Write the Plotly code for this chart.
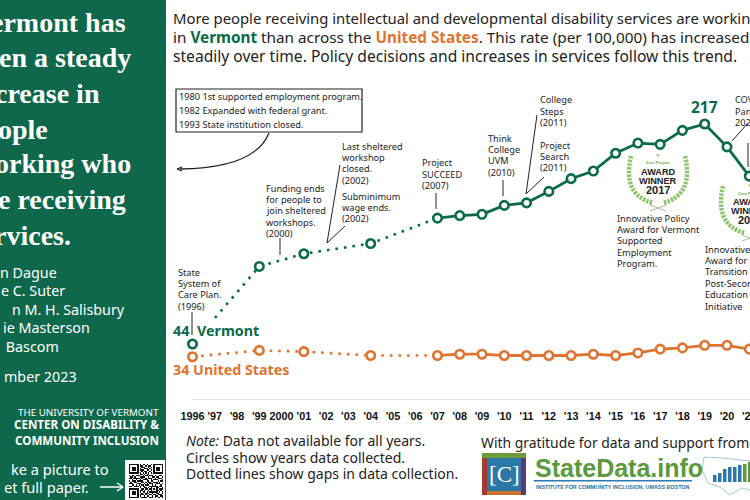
import plotly.graph_objects as go

# ---------- data ----------
axis_years = list(range(1996, 2022))
axis_labels = ["1996", "'97", "'98", "'99", "2000", "'01", "'02", "'03", "'04", "'05", "'06", "'07", "'08",
               "'09", "'10", "'11", "'12", "'13", "'14", "'15", "'16", "'17", "'18", "'19", "'20", "'21"]
years = [1996, 1999, 2001, 2004, 2007, 2008, 2009, 2010, 2011, 2012, 2013, 2014, 2015, 2016, 2017, 2018, 2019, 2020, 2021]
vermont = [44, 105, 115, 123, 143, 145, 146, 153, 155, 164, 174, 180, 194, 202, 201, 212, 217, 199, 176]
united_states = [34, 39, 38, 35, 35, 36, 36, 35, 35, 35, 35, 36, 35, 37, 40, 41, 43, 43, 40]
GAP_END = 5   # first five collected years are joined by dotted lines

heading = [("ermont has", 127, 22), ("en a steady", 132, 58), ("crease in", 101, 93), ("ople", 49, 129),
           ("orking who", 132, 164), ("e receiving", 127, 199), ("rvices.", 72, 235)]
authors = [("n Dague", 58, 272), ("e C. Suter", 66, 290), ("n M. H. Salisbury", 126, 309),
           ("ie Masterson", 91, 327), (" Bascom", 60, 346), ("mber 2023", 78, 376)]
intro = [("More people receiving intellectual and developmental disability services are working", 18, 14.85),
         ("in <b><span style='color:#0B6A47'>Vermont</span></b> than across the <b><span style='color:#DE7430'>United States</span></b>. This rate (per 100,000) has increased", 37, 15.3),
         ("steadily over time. Policy decisions and increases in services follow this trend.", 56, 15.6)]
notes = [(177, 272, ["State", "System of", "Care Plan.", "(1996)"]),
         (265, 188, ["Funding ends", "for people to", "join sheltered", "workshops.", "(2000)"]),
         (341, 146, ["Last sheltered", "workshop", "closed.", "(2002)"]),
         (341, 196, ["Subminimum", "wage ends.", "(2002)"]),
         (421, 163, ["Project", "SUCCEED", "(2007)"]),
         (487, 138, ["Think", "College", "UVM", "(2010)"]),
         (539, 100, ["College", "Steps", "(2011)"]),
         (539, 145, ["Project", "Search", "(2011)"]),
         (734, 100, ["COVID-19", "Pandemic", "2020"]),
         (178, 97, ["1980 1st supported employment program."]),
         (178, 110.5, ["1982 Expanded with federal grant."]),
         (178, 124, ["1993 State institution closed."]),
         (616, 218, ["Innovative Policy", "Award for Vermont", "Supported", "Employment", "Program."]),
         (704, 249, ["Innovative Policy", "Award for Vermont", "Transition", "Post-Secondary", "Education", "Initiative"])]
leaders = [(192, 312, 192, 335), (280, 238, 280, 255), (340, 165, 327, 243), (345, 226, 327, 243),
           (436, 193, 436, 209), (503, 180, 503, 196), (537, 115, 526, 194), (544, 177, 526, 194),
           (748, 123, 732, 141), (748, 143, 748, 167)]
footnote = [("<i>Note:</i> Data not available for all years.", 440),
            ("Circles show years data collected.", 457),
            ("Dotted lines show gaps in data collection.", 473.5)]
qr_rows = ["1111111010110100101111111", "1000001011001011001000001", "1011101001110010101011101",
           "1011101010011101001011101", "1011101011100110101011101", "1000001001011001001000001",
           "1111111010101010101111111", "0000000011010110000000000", "1011011100101101110100110",
           "0110100011110010011011001", "1101111101001011100101110", "0010010010111100101110001",
           "1011101111000110110001011", "0100110001101011001110100", "1110001110010101110011101",
           "0011010101101110010100010", "1100111010110001111110110", "0000000010011010100011001",
           "1111111001101101101010111", "1000001011010010100011010", "1011101010110101111110101",
           "1011101001001110010011001", "1011101011101001101101110", "1000001010010110010110011",
           "1111111001111001110101101"]

# ---------- style ----------
GREEN, ORANGE, PANEL, INK = "#0B6A47", "#DE7430", "#0F684B", "#222222"
BODY, SERIF = "Noto Sans", "Liberation Serif"
W, H = 750.0, 500.0
PX_PER_YEAR, PX_PER_UNIT = 22.27, 1.272
px = lambda x: x / W
py = lambda y: (H - y) / H

fig = go.Figure()
shapes, ann = [], []

def rect(x0, y0, x1, y1, fill, line=None, lw=0, layer="above"):
    shapes.append(dict(type="rect", xref="paper", yref="paper", x0=px(x0), x1=px(x1), y0=py(y0), y1=py(y1),
                       fillcolor=fill, line=dict(color=line or fill, width=lw), layer=layer))

def seg(x0, y0, x1, y1, color=INK, width=1):
    shapes.append(dict(type="line", xref="paper", yref="paper", x0=px(x0), x1=px(x1), y0=py(y0), y1=py(y1),
                       line=dict(color=color, width=width)))

def curve(points, color, width, dash="solid"):
    (a, b), (c, d), (e, f) = points
    shapes.append(dict(type="path", xref="paper", yref="paper",
                       path=f"M {px(a)} {py(b)} Q {px(c)} {py(d)} {px(e)} {py(f)}",
                       line=dict(color=color, width=width, dash=dash)))

def text(x, y, s, size=9.2, color=INK, anchor="left", family=BODY, bg=None):
    ann.append(dict(xref="paper", yref="paper", x=px(x), y=py(y), text=s, showarrow=False, xanchor=anchor,
                    yanchor="middle", font=dict(size=size, color=color, family=family),
                    bgcolor=bg, borderpad=0))

# ---------- panel ----------
rect(0, 0, 166, 500, PANEL, layer="below")
for s, x, y in heading:
    text(x, y, f"<b>{s}</b>", 28, "white", "right", SERIF)
for s, x, y in authors:
    text(x, y, s, 14.3, "white", "right")
text(160, 412, "THE UNIVERSITY OF VERMONT", 9.8, "white", "right")
text(160, 424, "<b>CENTER ON DISABILITY &</b>", 11.6, "white", "right")
text(160, 440, "<b>COMMUNITY INCLUSION</b>", 11.6, "white", "right")
text(110, 469, "ke a picture to", 14.6, "white", "right")
text(90, 487, "et full paper.", 14.6, "white", "right")
seg(100, 487, 122, 487, "white", 1.5)
seg(117, 483, 123, 487, "white", 1.5)
seg(117, 491, 123, 487, "white", 1.5)
rect(125, 460, 165, 500, "white", layer="below")

# ---------- intro and notes ----------
for s, y, size in intro:
    text(172, y, s, size)
for x, y, lines in notes:
    step = 11.4
    for i, line in enumerate(lines):
        text(x, y + i * step, line, 9.2)
for coords in leaders:
    seg(*coords, color=INK, width=1)
rect(176, 89, 362, 132, "rgba(0,0,0,0)", INK, 1.2)
curve([(269, 133), (255, 168), (180, 169)], INK, 1.3)
seg(177, 169, 182, 167, INK, 1.3)
seg(177, 169, 182, 171, INK, 1.3)

# value labels
text(704.5, 107, "<b>217</b>", 15.5, GREEN, "center")
text(172, 331, "<b>44</b>", 14.3, GREEN)
text(196, 330.5, "<b>Vermont</b>", 14.3, GREEN, bg="white")
text(172, 369, "<b>34 United States</b>", 14.3, ORANGE)

# award seals
for dx, dy, yr in [(0, 0, "2017"), (92, 30, "2021")]:
    cx = 658 + dx
    for side in (-1, 1):
        curve([(cx + side * 27, 156 + dy), (cx + side * 36, 195 + dy), (cx + side * 5, 203 + dy)], "#8CC46C", 4.5, "2.5px,1.2px")
        seg(cx + side * 8, 205 + dy, cx - side * 8, 211 + dy, "#8FAF80", 0.8)
    text(cx, 155 + dy, "●", 6, "#9CCB82", "center")
    text(cx, 163 + dy, "<b>Zero Project</b>", 4, "#6BAA4A", "center", "Liberation Sans")
    text(cx, 172 + dy, "<b>AWARD</b>", 9.2, INK, "center", "Liberation Sans")
    text(cx, 181 + dy, "<b>WINNER</b>", 9.2, INK, "center", "Liberation Sans")
    text(cx, 190 + dy, f"<b>{yr}</b>", 11, INK, "center", "Liberation Sans")

# ---------- footer ----------
for s, y in footnote:
    text(185, y, s, 14)
text(480, 442, "With gratitude for data and support from", 13.9)
rect(482, 453, 526, 495, "#C9742F")
rect(482, 453, 526, 458, "#6C9A3A")
rect(482, 458, 487, 495, "#A53B2A")
rect(521, 458, 526, 495, "#5B3A7A")
rect(487, 458, 521, 491, "#2A78A8")
text(504, 474, "[C]", 23, "white", "center", "Liberation Serif")
text(534, 468, "<b>StateData.info</b>", 25, "#5A9A3C", family="Liberation Sans")
rect(534, 480, 692, 481.5, "#2A7BB0")
text(535, 486.5, "<b>INSTITUTE FOR COMMUNITY INCLUSION, UMASS BOSTON</b>", 5.4, "#2A6F9E", family="Liberation Sans")
for x0, y0, x1, y1 in [(704, 457, 722, 458), (722, 458, 750, 461), (704, 457, 702, 470), (702, 470, 708, 483),
                       (708, 483, 720, 487), (720, 487, 730, 495), (730, 495, 742, 488), (742, 488, 750, 490)]:
    seg(x0, y0, x1, y1, "#8FB5CC", 0.8)
for x, top, c in [(713, 475, "#2A78A8"), (718, 473, "#2A78A8"), (723, 469, "#2A78A8"), (728, 467, "#2A78A8"),
                  (733, 467, "#2A78A8"), (738, 465, "#2A78A8"), (743, 464, "#5A9A3C"), (748, 462, "#5A9A3C")]:
    rect(x, top, x + 3.5, 482, c)

# ---------- series ----------
for vals, col in [(vermont, GREEN), (united_states, ORANGE)]:
    fig.add_trace(go.Scatter(x=years[:GAP_END], y=vals[:GAP_END], mode="lines", showlegend=False, hoverinfo="skip",
                             line=dict(color=col, width=2.6, dash="2.6px,6px")))
    fig.add_trace(go.Scatter(x=years[GAP_END - 1:], y=vals[GAP_END - 1:], mode="lines", showlegend=False, hoverinfo="skip",
                             line=dict(color=col, width=2.8)))
    fig.add_trace(go.Scatter(x=years, y=vals, mode="markers", showlegend=False, hoverinfo="skip",
                             marker=dict(size=8.5, color="white", line=dict(color=col, width=2.6))))

# axis rule
seg(192, 399.5, 750, 399.5, "#E4E4E4", 1.2)

# QR code
fig.add_trace(go.Heatmap(z=[[int(c) for c in row] for row in qr_rows[::-1]], xaxis="x2", yaxis="y2", showscale=False,
                         colorscale=[[0, "white"], [1, "#111111"]], hoverinfo="skip", xgap=0, ygap=0))

fig.update_layout(
    width=750, height=500, margin=dict(l=0, r=0, t=0, b=0, autoexpand=False), paper_bgcolor="white", plot_bgcolor="rgba(0,0,0,0)",
    showlegend=False, shapes=shapes, annotations=ann,
    xaxis=dict(range=[1996 - 192.5 / PX_PER_YEAR, 1996 + (W - 192.5) / PX_PER_YEAR], anchor="free", position=100 / H,
               tickmode="array", tickvals=axis_years, ticktext=axis_labels, showgrid=False, zeroline=False, showline=False,
               ticks="outside", ticklen=6, tickcolor="rgba(0,0,0,0)", tickangle=0, ticklabeloverflow="allow", automargin=False,
               tickfont=dict(family="Liberation Sans", size=10.8, color="#111111", weight="bold")),
    yaxis=dict(range=[-100 / PX_PER_UNIT, 400 / PX_PER_UNIT], visible=False),
    xaxis2=dict(domain=[129 / W, 163 / W], anchor="y2", visible=False),
    yaxis2=dict(domain=[2 / H, 36 / H], anchor="x2", visible=False),
)
fig.write_html("out.html", config=dict(displayModeBar=False),
               post_script="document.body.style.margin='0';document.body.style.overflow='hidden';")
